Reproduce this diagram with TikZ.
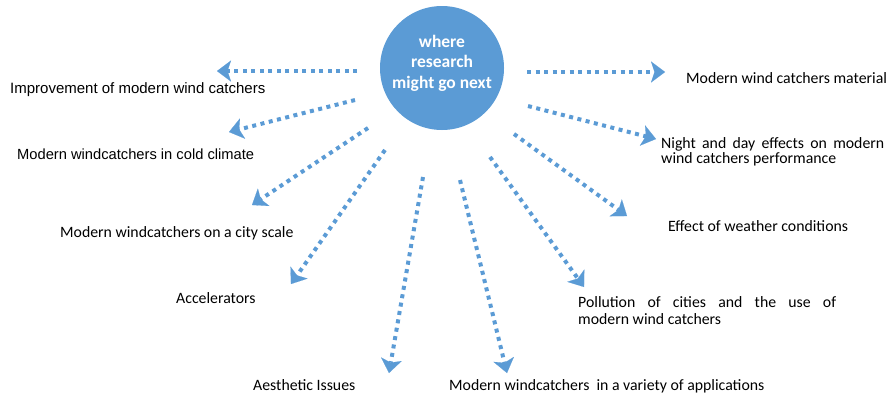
\documentclass[tikz,border=0pt]{standalone}
\usepackage{fontspec}
\setmainfont{Carlito}
\newfontfamily\arialfont{Liberation Sans}
\usetikzlibrary{arrows.meta, positioning}
\definecolor{wcblue}{HTML}{5B9BD5}
\tikzset{hub node/.style={circle,fill=wcblue,minimum size=124pt,inner sep=0pt,text=white,align=center,text depth=13pt,font=\fontsize{17.5}{20.5}\selectfont\bfseries},
  topic node/.style={anchor=base west,inner sep=0pt,font=\fontsize{15.8}{17}\selectfont},
  flow/.style={draw=wcblue,line width=4pt,dash pattern=on 4pt off 4.5pt,-{Stealth[length=14pt,width=21pt,inset=3.5pt,line width=0.1pt,sep=0pt]}},}

\begin{document}
\begin{tikzpicture}[x=1pt, y=-1pt]
       \useasboundingbox (0,0) rectangle (888,394);
       \node[hub node] (0) at (442,68) {where\\research\\might go next};

       \node[topic node, font=\fontsize{15}{17}\selectfont] (1) at (10,93) {\arialfont Improvement of modern wind catchers};
       \node[topic node, font=\fontsize{14.7}{17}\selectfont] (2) at (17,159) {\arialfont Modern windcatchers in cold climate};
       \node[topic node] (3) at (60,237) {Modern windcatchers on a city scale};
       \node[topic node] (4) at (176,303) {Accelerators};
       \node[topic node] (5) at (253,390) {Aesthetic Issues};
       \node[topic node] (6) at (449,390) {Modern windcatchers\ \ in a variety of applications};
       \node[topic node, text width=258pt, align=justify, font=\fontsize{15.8}{17}\selectfont] (7) at (578,307)
            {Pollution of cities and the use of\linebreak modern wind catchers};
       \node[topic node] (8) at (668,231) {Effect of weather conditions};
       \node[topic node, text width=223pt, align=justify, font=\fontsize{15.8}{15}\selectfont] (9) at (661,148)
            {Night and day effects on modern\linebreak wind catchers performance};
       \node[topic node] (10) at (686,83) {Modern wind catchers material};

       \coordinate (a1) at (357,71);  \coordinate (b1) at (217,71);
       \coordinate (a2) at (355,100); \coordinate (b2) at (229,132);
       \coordinate (a3) at (368,128); \coordinate (b3) at (252,205);
       \coordinate (a4) at (385,150); \coordinate (b4) at (291,284);
       \coordinate (a5) at (423,177); \coordinate (b5) at (389,373);
       \coordinate (a6) at (460,180); \coordinate (b6) at (507,373);
       \coordinate (a7) at (490,157); \coordinate (b7) at (584,287);
       \coordinate (a8) at (514,134); \coordinate (b8) at (627,216);
       \coordinate (a9) at (528,106); \coordinate (b9) at (656,139);
       \coordinate (a10) at (527,72); \coordinate (b10) at (665,72);

       \path[every edge/.style=flow]
       (a1) edge (b1)
       (a2) edge (b2)
       (a3) edge (b3)
       (a4) edge (b4)
       (a5) edge (b5)
       (a6) edge (b6)
       (a7) edge (b7)
       (a8) edge (b8)
       (a9) edge (b9)
       (a10) edge (b10)
       ;
\end{tikzpicture}
\end{document}
